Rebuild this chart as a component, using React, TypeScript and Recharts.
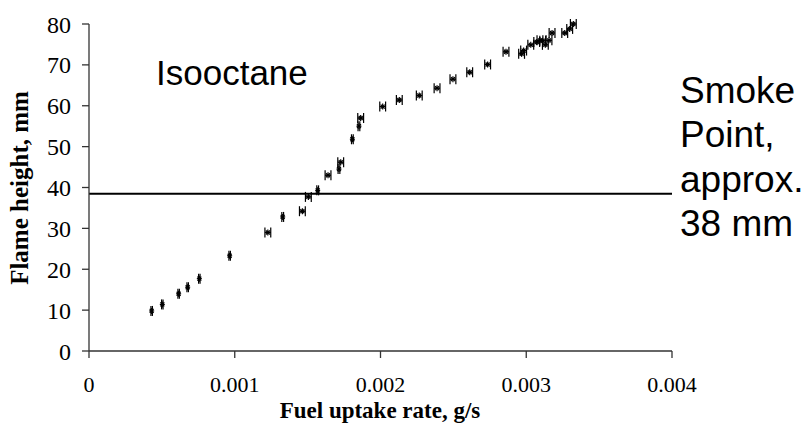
import {
  ScatterChart,
  Scatter,
  XAxis,
  YAxis,
  ErrorBar,
  ReferenceLine,
  Customized,
} from "recharts";

// fuel uptake rate (g/s) vs flame height (mm)
const fuelRate = [
  0.00043, 0.000503, 0.000615, 0.000677, 0.000757, 0.000965, 0.001227, 0.001329,
  0.001464, 0.001505, 0.001569, 0.00164, 0.001715, 0.001727, 0.001807, 0.001852,
  0.001864, 0.002015, 0.002129, 0.002266, 0.002388, 0.002497, 0.002612, 0.002735,
  0.002861, 0.002968, 0.002982, 0.003031, 0.003072, 0.003094, 0.003113, 0.003131,
  0.003156, 0.003177, 0.003264, 0.003298, 0.003323,
];
const flameHeight = [
  9.8, 11.4, 14.0, 15.6, 17.7, 23.3, 29.0, 32.8, 34.2, 37.7, 39.3, 43.0, 44.5, 46.2,
  51.8, 55.0, 57.0, 59.8, 61.4, 62.5, 64.3, 66.5, 68.2, 70.1, 73.2, 72.7, 73.5, 74.9,
  75.6, 76.0, 75.9, 74.9, 76.0, 77.8, 77.8, 78.8, 80.0,
];
const rateError = [
  0.000005, 0.000005, 0.000005, 0.000005, 0.000005, 0.000005, 0.00002, 0.000006,
  0.00002, 0.00002, 0.000006, 0.00002, 0.000006, 0.00002, 0.000006, 0.000006,
  0.00002, 0.00002, 0.00002, 0.00002, 0.00002, 0.00002, 0.00002, 0.00002,
  0.00002, 0.00002, 0.00002, 0.00002, 0.00002, 0.00002, 0.00002, 0.00002,
  0.00002, 0.00002, 0.00002, 0.00002, 0.00002,
];
const xTicks = [0, 0.001, 0.002, 0.003, 0.004];
const yTicks = [0, 10, 20, 30, 40, 50, 60, 70, 80];
const smokePoint = 38.5;
const smokeLabel = ["Smoke", "Point,", "approx.", "38 mm"];

const data = fuelRate.map((x, i) => ({ x, y: flameHeight[i], err: rateError[i] }));

const SERIF = "'Liberation Serif', 'Times New Roman', serif";
const SANS = "'Liberation Sans', Arial, sans-serif";

const tickStyle = { fontFamily: SERIF, fontSize: 22, fill: "#000" };

function Asterisk(props: any) {
  const { cx, cy } = props;
  return (
    <g stroke="#000" strokeWidth={1.2}>
      <line x1={cx - 2.5} y1={cy} x2={cx + 2.5} y2={cy} />
      <line x1={cx} y1={cy - 3} x2={cx} y2={cy + 3} />
      <line x1={cx - 2} y1={cy - 2} x2={cx + 2} y2={cy + 2} />
      <line x1={cx - 2} y1={cy + 2} x2={cx + 2} y2={cy - 2} />
    </g>
  );
}

function Annotations() {
  return (
    <g>
      <text x={156} y={85} fontFamily={SANS} fontSize={35} fill="#000">
        Isooctane
      </text>
      {smokeLabel.map((s, i) => (
        <text key={s} x={680} y={103 + i * 44.3} fontFamily={SANS} fontSize={37} fill="#000">
          {s}
        </text>
      ))}
      <text
        x={380}
        y={418}
        textAnchor="middle"
        fontFamily={SERIF}
        fontWeight="bold"
        fontSize={23}
        fill="#000"
      >
        Fuel uptake rate, g/s
      </text>
      <text
        x={28}
        y={188}
        textAnchor="middle"
        transform="rotate(-90 28 188)"
        fontFamily={SERIF}
        fontWeight="bold"
        fontSize={25}
        fill="#000"
      >
        Flame height, mm
      </text>
    </g>
  );
}

export default function App() {
  return (
    <div style={{ position: "absolute", left: 0, top: 0, background: "#fff" }}>
      <ScatterChart
        width={803}
        height={424}
        margin={{ top: 24, right: 131, bottom: 0, left: 0 }}
      >
        <XAxis
          type="number"
          dataKey="x"
          domain={[0, 0.004]}
          ticks={xTicks}
          tickFormatter={(v: number) => String(v)}
          height={73}
          tick={tickStyle}
          tickSize={7}
          tickMargin={18}
          axisLine={{ stroke: "#333", strokeWidth: 1.3 }}
          tickLine={{ stroke: "#333", strokeWidth: 1.3 }}
        />
        <YAxis
          type="number"
          dataKey="y"
          domain={[0, 80]}
          ticks={yTicks}
          width={89}
          tick={{ ...tickStyle, fontSize: 24 }}
          tickSize={7}
          tickMargin={11}
          axisLine={{ stroke: "#333", strokeWidth: 1.3 }}
          tickLine={{ stroke: "#333", strokeWidth: 1.3 }}
        />
        <ReferenceLine y={smokePoint} stroke="#000" strokeWidth={2} />
        <Scatter data={data} shape={Asterisk} isAnimationActive={false}>
          <ErrorBar
            dataKey="err"
            direction="x"
            width={5}
            stroke="#000"
            strokeWidth={1.2}
            isAnimationActive={false}
          />
        </Scatter>
        <Customized component={Annotations} />
      </ScatterChart>
    </div>
  );
}
